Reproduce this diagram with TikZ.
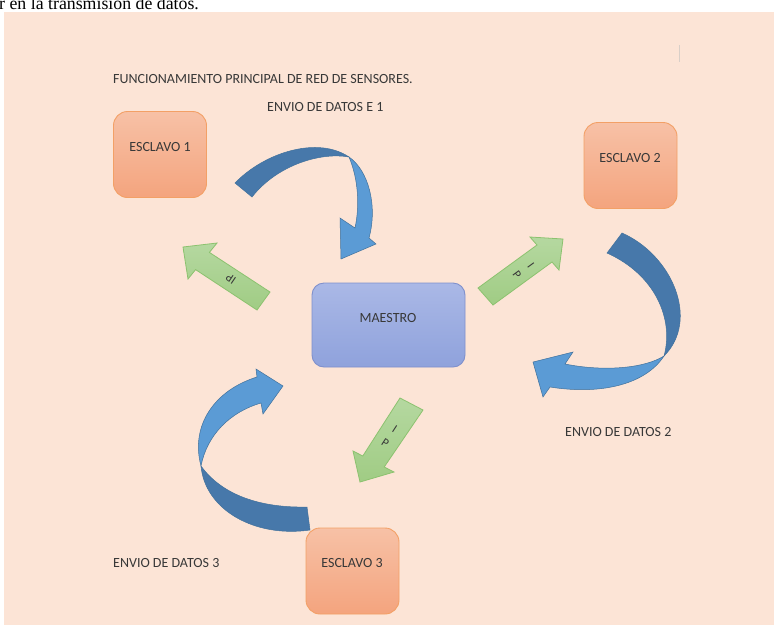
\documentclass[tikz,border=0pt]{standalone}
\usepackage{fontspec}
\setmainfont{Carlito}
\newfontfamily\serifface{Liberation Serif}
\definecolor{bg}{HTML}{FCE4D6}
\definecolor{slavetop}{HTML}{F7C1A6}
\definecolor{slavebot}{HTML}{F4A47E}
\definecolor{slaveborder}{HTML}{F3A066}
\definecolor{mastertop}{HTML}{AAB8E6}
\definecolor{masterbot}{HTML}{8FA2DC}
\definecolor{masterborder}{HTML}{7F90CC}
\definecolor{gtop}{HTML}{B5D8A0}
\definecolor{gbot}{HTML}{A0CC84}
\definecolor{gborder}{HTML}{8CC26F}
\definecolor{blight}{HTML}{5B9BD5}
\definecolor{bdark}{HTML}{4778AA}
\definecolor{bedge}{HTML}{41719C}
\definecolor{txt}{HTML}{383838}
\definecolor{faint}{HTML}{D9CFC8}
\begin{document}
\begin{tikzpicture}[x=1pt,y=-1pt,
  slave/.style={draw=slaveborder, line width=0.9pt, rounded corners=14pt,
    top color=slavetop, bottom color=slavebot, minimum width=93pt,
    minimum height=86pt, inner sep=0pt},
  master/.style={draw=masterborder, line width=0.9pt, rounded corners=12pt,
    top color=mastertop, bottom color=masterbot, minimum width=153pt,
    minimum height=84pt, inner sep=0pt},
  lbl/.style={font=\fontsize{14}{16}\selectfont, text=txt, inner sep=0pt},
  garrow/.style={top color=gtop, bottom color=gbot, draw=gborder, line width=0.8pt, line join=miter},
  glbl/.style={font=\fontsize{12}{17}\selectfont, text=txt, inner sep=0pt, align=center},
  dblue/.style={fill=bdark, draw=bedge, line width=0.5pt},
  lblue/.style={fill=blight, draw=bedge, line width=0.5pt}]
\useasboundingbox (0,0) rectangle (774,625);
\fill[white] (0,0) rectangle (774,625);
\fill[bg] (4,12) rectangle (774,625);
\node[anchor=base west, font=\serifface\fontsize{17.8}{20}\selectfont, inner sep=0pt] (top) at (-1,9) {r en la transmisión de datos.};
\draw[faint, line width=0.8pt] (679,45) -- (679,62);

% boxes
\node[slave] (e1) at (160,154.5) {};
\node[slave] (e2) at (630.5,165.5) {};
\node[master] (m) at (388.5,325) {};
\node[slave] (e3) at (352.5,571) {};
\node[lbl, anchor=base] (e1t) at (160,151.5) {ESCLAVO 1};
\node[lbl, anchor=base] (e2t) at (630,162.5) {ESCLAVO 2};
\node[lbl, anchor=base] (mt) at (388,322.5) {MAESTRO};
\node[lbl, anchor=base] (e3t) at (352,567.5) {ESCLAVO 3};

% texts
\node[lbl, anchor=base west] (title) at (113,83.5) {FUNCIONAMIENTO PRINCIPAL DE RED DE SENSORES.};
\node[lbl, anchor=base west] (d1) at (267,111.5) {ENVIO DE DATOS E 1};
\node[lbl, anchor=base west] (d2) at (565,436.5) {ENVIO DE DATOS 2};
\node[lbl, anchor=base west] (d3) at (113,567.5) {ENVIO DE DATOS 3};

% green block arrows
\path[garrow] (183,247) -- (217,243) -- (209.4,252.4) -- (270,292) -- (257,310)
  -- (195.6,269.6) -- (188,279) -- cycle;
\node[glbl, rotate=146] (g1) at (231,279) {IP};
\path[garrow] (563,239) -- (530,237) -- (537,245) -- (478,288) -- (493,305)
  -- (552,262) -- (559,270) -- cycle;
\node[glbl, rotate=-54] (g2) at (524,270) {I\\P};
\path[garrow] (360,482) -- (353,451) -- (362.8,456) -- (400,398) -- (423,410)
  -- (384.2,467) -- (394,472) -- cycle;
\node[glbl, rotate=-33] (g3) at (390,436) {I\\P};

% blue curved arrows
\path[dblue] (235,183) .. controls (265,152) and (318,136) .. (349,157)
  .. controls (322,152) and (278,164) .. (252,197) -- cycle;
\path[lblue] (349,157) .. controls (368,170) and (378,205) .. (369,238)
  -- (376,244) -- (341,259) -- (340,218) -- (355,228)
  .. controls (360,205) and (358,178) .. (349,157) -- cycle;

\path[dblue] (622,233) .. controls (672,255) and (700,320) .. (664,356)
  .. controls (674,320) and (656,275) .. (607,253) -- cycle;
\path[lblue] (664,356) .. controls (645,385) and (600,395) .. (550,387)
  -- (543,397) -- (533,362) -- (573,352) -- (565,364)
  .. controls (605,372) and (645,368) .. (664,356) -- cycle;

\path[dblue] (201,466) .. controls (205,510) and (255,538) .. (310,530)
  -- (307,507) .. controls (260,508) and (222,495) .. (201,466) -- cycle;
\path[lblue] (201,466) .. controls (190,425) and (215,390) .. (257,377)
  -- (256,369) -- (283,386) -- (263,414) -- (261,403)
  .. controls (230,412) and (207,435) .. (201,466) -- cycle;
\end{tikzpicture}
\end{document}
